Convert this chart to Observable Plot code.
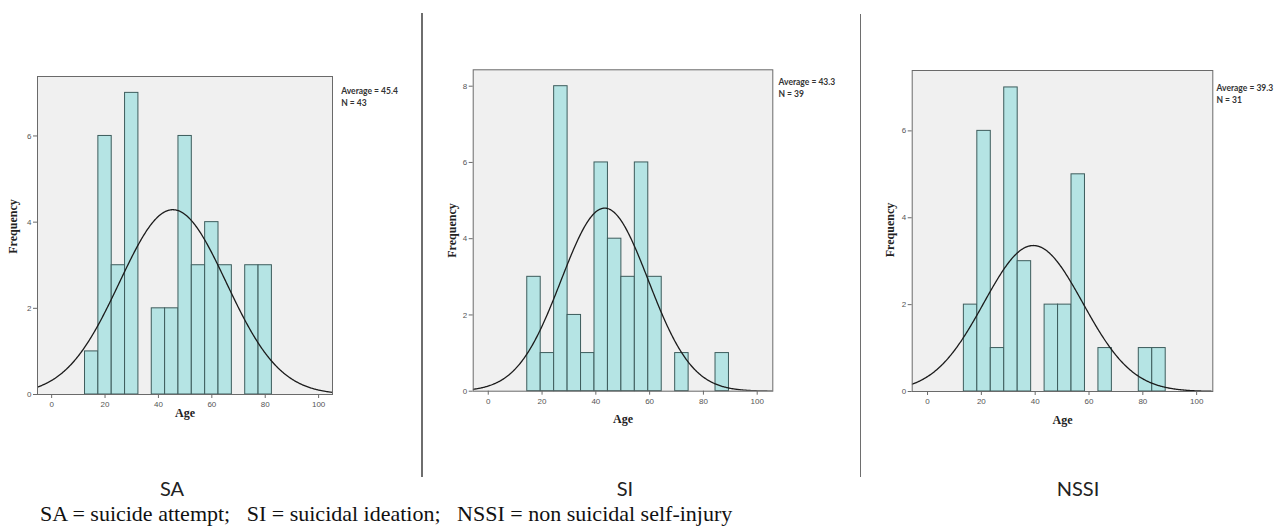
<!DOCTYPE html>
<html>
<head>
<meta charset="utf-8">
<script src="https://cdn.jsdelivr.net/npm/d3@7"></script>
<script src="https://cdn.jsdelivr.net/npm/@observablehq/plot@0.6"></script>
<style>
  html, body { margin: 0; padding: 0; background: #fff; }
  body { width: 1283px; height: 529px; position: relative; overflow: hidden; }
  .panel { position: absolute; top: 0; }
  .sep { position: absolute; width: 1.5px; background: #6e6e6e; }
  .grp { position: absolute; top: 476px; line-height: 24px; font-family: Lato, "Open Sans", sans-serif; font-size: 20px; color: #222; transform: translateX(-50%); white-space: nowrap; }
  .caption { position: absolute; left: 40px; top: 503px; line-height: 22px; font-family: "Liberation Serif", "Times New Roman", serif; font-size: 22px; color: #111; white-space: pre; }
</style>
</head>
<body>
<div id="p0" class="panel"></div>
<div id="p1" class="panel"></div>
<div id="p2" class="panel"></div>
<div class="sep" style="left:421px;top:13px;height:464px"></div>
<div class="sep" style="left:859.5px;top:14px;height:463px"></div>
<div id="labels"></div>
<div id="caption" class="caption"></div>
<script>
// ---------- data ----------
const groupNames = ["SA", "SI", "NSSI"];
const captionText = "SA = suicide attempt;   SI = suicidal ideation;   NSSI = non suicidal self-injury";
const binWidth = 5;

const saBinStarts = [12.5, 17.5, 22.5, 27.5, 32.5, 37.5, 42.5, 47.5, 52.5, 57.5, 62.5, 67.5, 72.5, 77.5];
const saCounts    = [1, 6, 3, 7, 0, 2, 2, 6, 3, 4, 3, 0, 3, 3];

const siBinStarts = [14.5, 19.5, 24.5, 29.5, 34.5, 39.5, 44.5, 49.5, 54.5, 59.5, 64.5, 69.5, 74.5, 79.5, 84.5];
const siCounts    = [3, 1, 8, 2, 1, 6, 4, 3, 6, 3, 0, 1, 0, 0, 1];

const nssiBinStarts = [13.5, 18.5, 23.5, 28.5, 33.5, 38.5, 43.5, 48.5, 53.5, 58.5, 63.5, 68.5, 73.5, 78.5, 83.5];
const nssiCounts    = [2, 6, 1, 7, 3, 0, 2, 2, 5, 0, 1, 0, 0, 1, 1];

const averages    = [45.4, 43.3, 39.3];
const sampleSizes = [43, 39, 31];
const stdDevs     = [20.0, 16.2, 18.4];   // spread of the fitted normal curves, read from their peaks

const xTickValues = [0, 20, 40, 60, 80, 100];
const yTickValues = [[0, 2, 4, 6], [0, 2, 4, 6, 8], [0, 2, 4, 6]];

// ---------- layout (not data) ----------
const layout = [
  {left: 0,   width: 420, mL: 37,   mR: 88,   mT: 76,   mB: 36,   xDom: [-5.3, 105.2], yMax: 7.38, fdx: -24,   fdy: -9, ady: 19, tdx: 8.7, tdy: 9.5},
  {left: 425, width: 420, mL: 47.7, mR: 72.7, mT: 69.3, mB: 39.3, xDom: [-5.6, 105.8], yMax: 8.43, fdx: -21,   fdy: 0,  ady: 28, tdx: 5.7, tdy: 7.5},
  {left: 863, width: 420, mL: 48.7, mR: 70.7, mT: 70,   mB: 39,   xDom: [-5.7, 106.0], yMax: 7.39, fdx: -21.7, fdy: -1, ady: 29, tdx: 3.7, tdy: 12.5}
];
const groupLabelX = [172, 625, 1078];

const series = [
  {starts: saBinStarts, counts: saCounts},
  {starts: siBinStarts, counts: siCounts},
  {starts: nssiBinStarts, counts: nssiCounts}
];

series.forEach((s, i) => {
  const L = layout[i];
  const bins = s.starts.map((x1, j) => ({x1, x2: x1 + binWidth, count: s.counts[j]})).filter(d => d.count > 0);
  const mu = averages[i], sd = stdDevs[i], n = sampleSizes[i];
  const curve = d3.range(L.xDom[0], L.xDom[1] + 0.001, 0.25).map(x => ({
    x, y: n * binWidth * Math.exp(-0.5 * ((x - mu) / sd) ** 2) / (sd * Math.sqrt(2 * Math.PI))
  }));
  const chart = Plot.plot({
    width: L.width,
    height: 430,
    marginLeft: L.mL,
    marginRight: L.mR,
    marginTop: L.mT,
    marginBottom: L.mB,
    x: {domain: L.xDom, label: null},
    y: {domain: [0, L.yMax], label: null},
    style: {background: "transparent", fontFamily: "'Liberation Sans', Arial, sans-serif", overflow: "visible"},
    marks: [
      Plot.frame({fill: "#f0f0f0", stroke: null}),
      Plot.rectY(bins, {x1: "x1", x2: "x2", y: "count", fill: "#b5e4e4", stroke: "#3d5c5c", strokeWidth: 1, inset: 0}),
      Plot.line(curve, {x: "x", y: "y", stroke: "#1c1c1c", strokeWidth: 1.3, clip: true}),
      Plot.frame({stroke: "#6a6a6a", strokeWidth: 1}),
      Plot.axisX({ticks: xTickValues, tickSize: 4, tickPadding: 3, fontSize: 8, fill: "#555", stroke: "#6a6a6a", label: null}),
      Plot.axisY({ticks: yTickValues[i], tickSize: 4, tickPadding: 2, fontSize: 8, fill: "#555", stroke: "#6a6a6a", label: null}),
      Plot.text(["Frequency"], {frameAnchor: "left", textAnchor: "middle", lineAnchor: "middle", rotate: -90, dx: L.fdx, dy: L.fdy, fontFamily: "'Liberation Serif', serif", fontWeight: "bold", fontSize: 12, fill: "#222"}),
      Plot.text(["Age"], {frameAnchor: "bottom", textAnchor: "middle", lineAnchor: "middle", dy: L.ady, fontFamily: "'Liberation Serif', serif", fontWeight: "bold", fontSize: 12, fill: "#222"}),
      Plot.text([`Average = ${mu}\nN = ${n}`], {frameAnchor: "top-right", textAnchor: "start", lineAnchor: "top", lineHeight: 1.35, dx: L.tdx, dy: L.tdy, fontFamily: "Lato, sans-serif", fontWeight: "bold", fontSize: 8.5, fill: "#333"})
    ]
  });
  const host = document.getElementById("p" + i);
  host.style.left = L.left + "px";
  host.appendChild(chart);
});

const labelsHost = document.getElementById("labels");
groupNames.forEach((g, i) => {
  const d = document.createElement("div");
  d.className = "grp";
  d.style.left = groupLabelX[i] + "px";
  d.textContent = g;
  labelsHost.appendChild(d);
});
document.getElementById("caption").textContent = captionText;
</script>
</body>
</html>
